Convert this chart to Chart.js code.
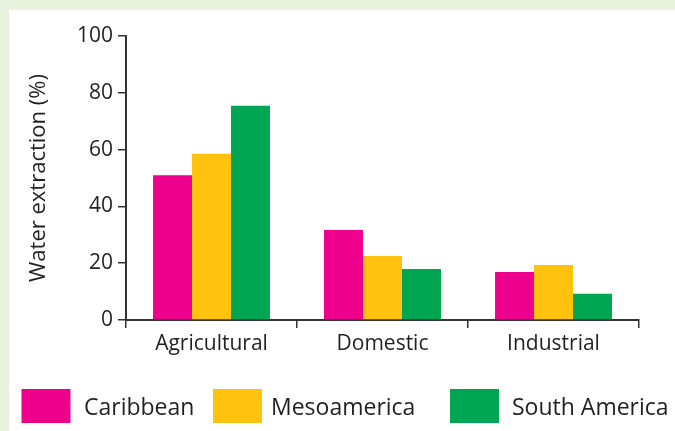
<!DOCTYPE html>
<html>
<head>
<meta charset="utf-8">
<script src="https://cdn.jsdelivr.net/npm/chart.js@4.4.0/dist/chart.umd.min.js"></script>
<style>
  html, body { margin: 0; padding: 0; background: #e9f2dd; width: 675px; height: 431px; overflow: hidden; }
  #panel { position: absolute; left: 9px; top: 10px; width: 666px; height: 421px; background: #ffffff; }
  canvas { display: block; }
</style>
</head>
<body>
<div id="panel"><canvas id="c" width="666" height="421"></canvas></div>
<script>
const categories = ['Agricultural', 'Domestic', 'Industrial'];
const seriesNames = ['Caribbean', 'Mesoamerica', 'South America'];
const caribbean = [51, 31.7, 16.9];
const mesoamerica = [58.5, 22.5, 19.4];
const southAmerica = [75.4, 18.0, 9.2];
const yTicks = [0, 20, 40, 60, 80, 100];
const colors = ['#ec008c', '#ffc20e', '#00a651'];

const FONT = "'Open Sans', sans-serif";
const TEXT = '#231f20';
const AXIS = '#333333';

const legendPlugin = {
  id: 'fixedLegend',
  afterDraw(chart) {
    const ctx = chart.ctx;
    const boxX = [12.5, 204, 441];
    const textX = [75, 262, 503];
    ctx.save();
    chart.data.datasets.forEach((ds, i) => {
      ctx.fillStyle = ds.backgroundColor;
      ctx.fillRect(boxX[i], 379, 49, 34);
      ctx.fillStyle = TEXT;
      ctx.font = "23px " + FONT;
      ctx.textBaseline = 'alphabetic';
      ctx.textAlign = 'left';
      ctx.fillText(ds.label, textX[i], 405);
    });
    ctx.restore();
  }
};

new Chart(document.getElementById('c'), {
  type: 'bar',
  data: {
    labels: categories,
    datasets: [
      { label: seriesNames[0], data: caribbean, backgroundColor: colors[0] },
      { label: seriesNames[1], data: mesoamerica, backgroundColor: colors[1] },
      { label: seriesNames[2], data: southAmerica, backgroundColor: colors[2] }
    ]
  },
  options: {
    responsive: false,
    animation: false,
    layout: { padding: { top: 26, right: 36, bottom: 0, left: 13 } },
    datasets: { bar: { categoryPercentage: 0.684, barPercentage: 1.0 } },
    plugins: { legend: { display: false }, tooltip: { enabled: false } },
    scales: {
      x: {
        offset: true,
        grid: { display: true, drawOnChartArea: false, offset: true, tickLength: 8, color: AXIS, lineWidth: 1.5 },
        border: { display: true, color: AXIS, width: 2 },
        ticks: { color: TEXT, font: { family: FONT, size: 21 }, padding: 3, maxRotation: 0 },
        afterFit(scale) { scale.height = 111; }
      },
      y: {
        min: 0, max: 100,
        afterBuildTicks(scale) { scale.ticks = yTicks.map(v => ({ value: v })); },
        grid: { display: true, drawOnChartArea: false, tickLength: 8, color: AXIS, lineWidth: 1.5 },
        border: { display: true, color: AXIS, width: 2 },
        ticks: { color: TEXT, font: { family: FONT, size: 21 }, padding: 5 },
        title: { display: true, text: 'Water extraction (%)', color: TEXT, font: { family: FONT, size: 22 }, padding: { top: 4, bottom: 0 } },
        afterFit(scale) { scale.width = 104; }
      }
    }
  },
  plugins: [legendPlugin]
});
</script>
</body>
</html>
